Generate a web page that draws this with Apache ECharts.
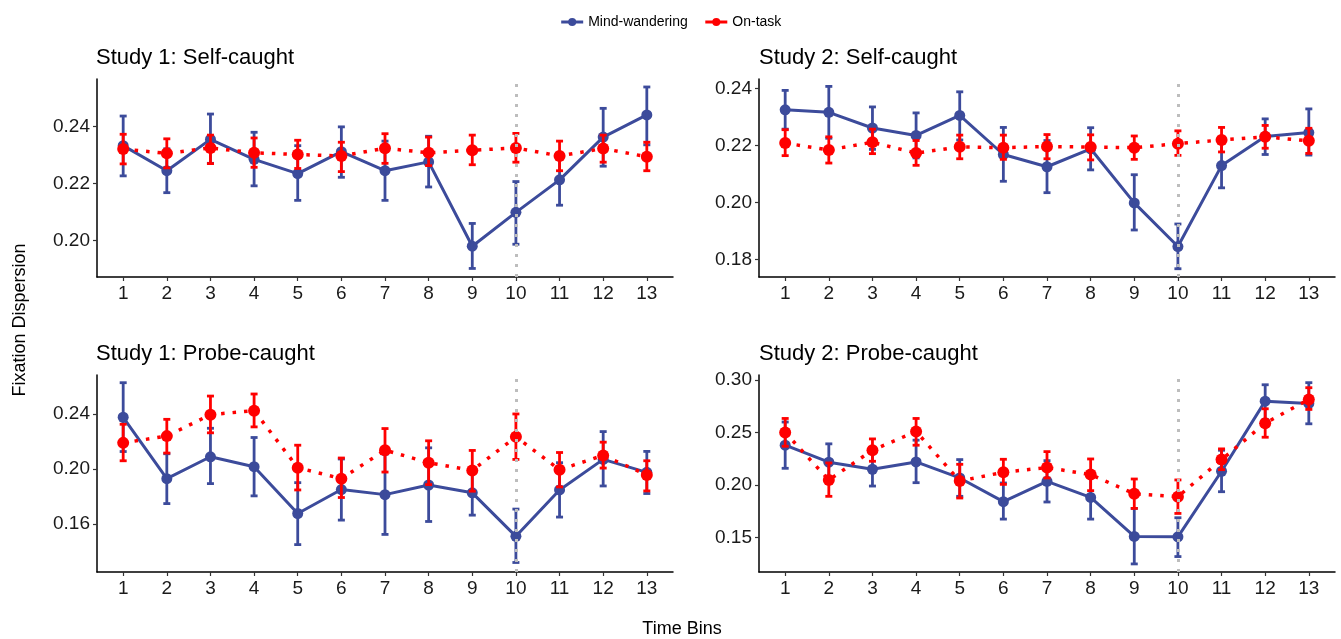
<!DOCTYPE html>
<html>
<head>
<meta charset="utf-8">
<script src="https://cdn.jsdelivr.net/npm/echarts@6/dist/echarts.min.js"></script>
<style>
html,body{margin:0;padding:0;background:#fff;}
#chart{width:1341px;height:639px;}
</style>
</head>
<body>
<div id="chart"></div>
<script>
// ---- Data ----
const bins = [1, 2, 3, 4, 5, 6, 7, 8, 9, 10, 11, 12, 13];
const seriesNames = ['Mind-wandering', 'On-task'];
const panelTitles = ['Study 1: Self-caught', 'Study 2: Self-caught', 'Study 1: Probe-caught', 'Study 2: Probe-caught'];

// Study 1: Self-caught
const s1SelfMW   = [0.2333, 0.2245, 0.2355, 0.2285, 0.2235, 0.2312, 0.2245, 0.2276, 0.1980, 0.2099, 0.2213, 0.2363, 0.2441];
const s1SelfMWLo = [0.2227, 0.2168, 0.2271, 0.2192, 0.2141, 0.2222, 0.2141, 0.2188, 0.1902, 0.1987, 0.2124, 0.2261, 0.2336];
const s1SelfMWHi = [0.2437, 0.2322, 0.2444, 0.2380, 0.2333, 0.2399, 0.2349, 0.2366, 0.2060, 0.2207, 0.2302, 0.2464, 0.2539];
const s1SelfOT   = [0.2321, 0.2306, 0.2325, 0.2308, 0.2302, 0.2297, 0.2324, 0.2308, 0.2317, 0.2325, 0.2297, 0.2323, 0.2294];
const s1SelfOTLo = [0.2269, 0.2255, 0.2270, 0.2257, 0.2253, 0.2242, 0.2271, 0.2263, 0.2266, 0.2275, 0.2245, 0.2275, 0.2245];
const s1SelfOTHi = [0.2373, 0.2357, 0.2370, 0.2360, 0.2352, 0.2345, 0.2375, 0.2363, 0.2370, 0.2376, 0.2349, 0.2370, 0.2345];

// Study 2: Self-caught
const s2SelfMW   = [0.2326, 0.2317, 0.2262, 0.2236, 0.2306, 0.2169, 0.2126, 0.2189, 0.1999, 0.1846, 0.2130, 0.2232, 0.2246];
const s2SelfMWLo = [0.2258, 0.2226, 0.2187, 0.2157, 0.2220, 0.2075, 0.2035, 0.2115, 0.1904, 0.1768, 0.2052, 0.2169, 0.2167];
const s2SelfMWHi = [0.2394, 0.2408, 0.2336, 0.2315, 0.2389, 0.2264, 0.2218, 0.2263, 0.2098, 0.1925, 0.2209, 0.2294, 0.2329];
const s2SelfOT   = [0.2209, 0.2185, 0.2212, 0.2174, 0.2196, 0.2193, 0.2197, 0.2195, 0.2193, 0.2207, 0.2220, 0.2231, 0.2217];
const s2SelfOTLo = [0.2165, 0.2139, 0.2172, 0.2131, 0.2154, 0.2152, 0.2154, 0.2150, 0.2152, 0.2166, 0.2178, 0.2191, 0.2173];
const s2SelfOTHi = [0.2256, 0.2231, 0.2258, 0.2218, 0.2237, 0.2237, 0.2239, 0.2238, 0.2234, 0.2252, 0.2264, 0.2271, 0.2261];

// Study 1: Probe-caught
const s1ProbeMW   = [0.2376, 0.1930, 0.2089, 0.2017, 0.1677, 0.1851, 0.1814, 0.1884, 0.1827, 0.1511, 0.1848, 0.2070, 0.1976];
const s1ProbeMWLo = [0.2127, 0.1749, 0.1894, 0.1805, 0.1451, 0.1629, 0.1525, 0.1619, 0.1665, 0.1321, 0.1651, 0.1877, 0.1822];
const s1ProbeMWHi = [0.2627, 0.2111, 0.2296, 0.2229, 0.1901, 0.2073, 0.2108, 0.2154, 0.1993, 0.1709, 0.2046, 0.2272, 0.2128];
const s1ProbeOT   = [0.2190, 0.2239, 0.2395, 0.2424, 0.2010, 0.1930, 0.2137, 0.2046, 0.1990, 0.2234, 0.1995, 0.2099, 0.1957];
const s1ProbeOTLo = [0.2060, 0.2116, 0.2263, 0.2306, 0.1848, 0.1793, 0.1978, 0.1887, 0.1839, 0.2070, 0.1870, 0.2007, 0.1841];
const s1ProbeOTHi = [0.2325, 0.2361, 0.2530, 0.2545, 0.2173, 0.2080, 0.2294, 0.2205, 0.2135, 0.2400, 0.2120, 0.2195, 0.2060];

// Study 2: Probe-caught
const s2ProbeMW   = [0.2379, 0.2217, 0.2150, 0.2220, 0.2067, 0.1841, 0.2035, 0.1882, 0.1510, 0.1506, 0.2131, 0.2799, 0.2777];
const s2ProbeMWLo = [0.2159, 0.2042, 0.1990, 0.2022, 0.1892, 0.1675, 0.1838, 0.1675, 0.1248, 0.1318, 0.1936, 0.2624, 0.2583];
const s2ProbeMWHi = [0.2600, 0.2392, 0.2312, 0.2427, 0.2242, 0.2019, 0.2232, 0.2073, 0.1777, 0.1688, 0.2331, 0.2955, 0.2975];
const s2ProbeOT   = [0.2500, 0.2048, 0.2331, 0.2510, 0.2038, 0.2121, 0.2166, 0.2099, 0.1917, 0.1889, 0.2242, 0.2589, 0.2815];
const s2ProbeOTLo = [0.2369, 0.1892, 0.2226, 0.2379, 0.1876, 0.2006, 0.2067, 0.1946, 0.1777, 0.1729, 0.2146, 0.2455, 0.2720];
const s2ProbeOTHi = [0.2634, 0.2210, 0.2439, 0.2634, 0.2197, 0.2245, 0.2318, 0.2248, 0.2057, 0.2048, 0.2344, 0.2726, 0.2927];

// y tick labels per panel
const yTicks1 = [0.20, 0.22, 0.24];
const yTicks2 = [0.18, 0.20, 0.22, 0.24];
const yTicks3 = [0.16, 0.20, 0.24];
const yTicks4 = [0.15, 0.20, 0.25, 0.30];
const markerBin = 10;

// ---- Build ----
const BLUE = '#3C4B9B';
const RED = '#FF0000';
const FONT = "'Liberation Sans', Arial, sans-serif";

const panels = [
  {mw: s1SelfMW, mwLo: s1SelfMWLo, mwHi: s1SelfMWHi, ot: s1SelfOT, otLo: s1SelfOTLo, otHi: s1SelfOTHi, ticks: yTicks1, ymin: 0.1872, ymax: 0.2567},
  {mw: s2SelfMW, mwLo: s2SelfMWLo, mwHi: s2SelfMWHi, ot: s2SelfOT, otLo: s2SelfOTLo, otHi: s2SelfOTHi, ticks: yTicks2, ymin: 0.1739, ymax: 0.2434},
  {mw: s1ProbeMW, mwLo: s1ProbeMWLo, mwHi: s1ProbeMWHi, ot: s1ProbeOT, otLo: s1ProbeOTLo, otHi: s1ProbeOTHi, ticks: yTicks3, ymin: 0.1252, ymax: 0.2683},
  {mw: s2ProbeMW, mwLo: s2ProbeMWLo, mwHi: s2ProbeMWHi, ot: s2ProbeOT, otLo: s2ProbeOTLo, otHi: s2ProbeOTHi, ticks: yTicks4, ymin: 0.1171, ymax: 0.3048}
];

const gridPos = [
  {left: 97, top: 79, width: 576, height: 198},
  {left: 759, top: 79, width: 576, height: 198},
  {left: 97, top: 375, width: 576, height: 197},
  {left: 759, top: 375, width: 576, height: 197}
];
const titlePos = [
  {left: 96, top: 47}, {left: 759, top: 47}, {left: 96, top: 343}, {left: 759, top: 343}
];

function errRender(color) {
  return function (params, api) {
    const x = api.value(0);
    const lo = api.coord([x, api.value(1)]);
    const hi = api.coord([x, api.value(2)]);
    const w = 3.5;
    const style = {stroke: color, lineWidth: 2.8, fill: null};
    return {
      type: 'group',
      children: [
        {type: 'line', shape: {x1: lo[0], y1: lo[1], x2: hi[0], y2: hi[1]}, style: style},
        {type: 'line', shape: {x1: hi[0] - w, y1: hi[1], x2: hi[0] + w, y2: hi[1]}, style: style},
        {type: 'line', shape: {x1: lo[0] - w, y1: lo[1], x2: lo[0] + w, y2: lo[1]}, style: style}
      ]
    };
  };
}

const grids = [], xAxes = [], yAxes = [], series = [], titles = [];
panels.forEach(function (p, i) {
  grids.push(Object.assign({containLabel: false}, gridPos[i]));
  titles.push({
    text: panelTitles[i], left: titlePos[i].left, top: titlePos[i].top, padding: 0,
    textStyle: {fontFamily: FONT, fontSize: 22, fontWeight: 'normal', color: '#000'}
  });
  xAxes.push({
    type: 'value', gridIndex: i, min: 0.4, max: 13.6,
    splitLine: {show: false},
    axisLine: {show: true, onZero: false, lineStyle: {color: '#000', width: 1.5}},
    axisTick: {show: true, length: 4, customValues: bins, lineStyle: {color: '#333', width: 1.2}},
    axisLabel: {customValues: bins, margin: 7, fontFamily: FONT, fontSize: 19, color: '#1a1a1a'}
  });
  yAxes.push({
    type: 'value', gridIndex: i, min: p.ymin, max: p.ymax,
    splitLine: {show: false},
    axisLine: {show: true, lineStyle: {color: '#000', width: 1.5}},
    axisTick: {show: true, length: 4, customValues: p.ticks, lineStyle: {color: '#333', width: 1.2}},
    axisLabel: {customValues: p.ticks, margin: 7, fontFamily: FONT, fontSize: 19, color: '#1a1a1a',
      formatter: function (v) { return Number(v).toFixed(2); }}
  });
  const mwData = bins.map(function (b, k) { return [b, p.mw[k]]; });
  const otData = bins.map(function (b, k) { return [b, p.ot[k]]; });
  const mwErr = bins.map(function (b, k) { return [b, p.mwLo[k], p.mwHi[k]]; });
  const otErr = bins.map(function (b, k) { return [b, p.otLo[k], p.otHi[k]]; });
  series.push({
    name: seriesNames[0], type: 'line', xAxisIndex: i, yAxisIndex: i, data: mwData,
    symbol: 'circle', symbolSize: 11, showSymbol: true, z: 2,
    lineStyle: {color: BLUE, width: 3}, itemStyle: {color: BLUE},
    emphasis: {disabled: true}, animation: false
  });
  series.push({
    name: seriesNames[0], type: 'custom', xAxisIndex: i, yAxisIndex: i, data: mwErr,
    encode: {x: 0, y: [1, 2]}, renderItem: errRender(BLUE), z: 3, animation: false, silent: true
  });
  series.push({
    name: seriesNames[1], type: 'line', xAxisIndex: i, yAxisIndex: i, data: otData,
    symbol: 'circle', symbolSize: 12, showSymbol: true, z: 4,
    lineStyle: {color: RED, width: 3.5, type: [3.5, 8], cap: 'butt'}, itemStyle: {color: RED},
    emphasis: {disabled: true}, animation: false,
    markLine: {
      silent: true, symbol: ['none', 'none'], animation: false, z: 10,
      label: {show: false},
      lineStyle: {color: '#BDBDBD', width: 3, type: [3, 7]},
      emphasis: {disabled: true},
      data: [{xAxis: markerBin}]
    }
  });
  series.push({
    name: seriesNames[1], type: 'custom', xAxisIndex: i, yAxisIndex: i, data: otErr,
    encode: {x: 0, y: [1, 2]}, renderItem: errRender(RED), z: 5, animation: false, silent: true
  });
});

const chart = echarts.init(document.getElementById('chart'), null, {renderer: 'canvas'});
chart.setOption({
  backgroundColor: '#fff',
  animation: false,
  title: titles,
  legend: {
    data: [
      {name: seriesNames[0], itemStyle: {color: BLUE}, lineStyle: {color: BLUE, type: 'solid', width: 3}},
      {name: seriesNames[1], itemStyle: {color: RED}, lineStyle: {color: RED, type: 'solid', width: 3}}
    ],
    left: 'center', top: 10, itemWidth: 22, itemHeight: 10, itemGap: 16,
    textStyle: {fontFamily: FONT, fontSize: 14, color: '#000'}
  },
  grid: grids,
  xAxis: xAxes,
  yAxis: yAxes,
  series: series,
  graphic: [
    {type: 'text', x: 20, y: 320, rotation: Math.PI / 2,
      style: {text: 'Fixation Dispersion', font: "18px 'Liberation Sans', Arial, sans-serif", fill: '#000', align: 'center', verticalAlign: 'middle'}},
    {type: 'text', x: 682, y: 629,
      style: {text: 'Time Bins', font: "18px 'Liberation Sans', Arial, sans-serif", fill: '#000', align: 'center', verticalAlign: 'middle'}}
  ]
});
</script>
</body>
</html>
